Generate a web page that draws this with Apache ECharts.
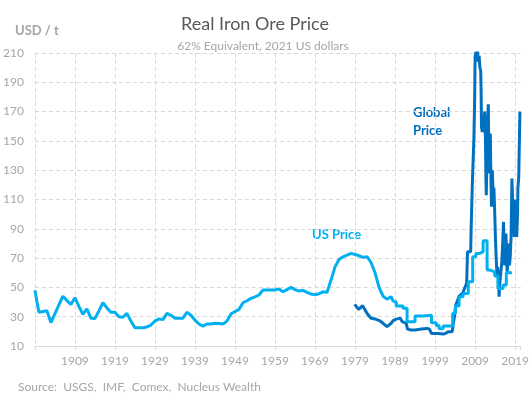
<!DOCTYPE html>
<html lang="en">
<head>
<meta charset="UTF-8" />
<title>Real Iron Ore Price</title>
<style>
  html, body { margin: 0; padding: 0; background: #ffffff; }
  #chart { width: 532px; height: 399px; }
</style>
</head>
<body>
<div id="chart"></div>
<script src="https://cdn.jsdelivr.net/npm/echarts@6/dist/echarts.min.js"></script>
<script>
// US price, annual points (year, USD/t)
const usYears = [1899,1900,1901,1902,1903,1904,1905,1906,1907,1908,1909,1910,1911,1912,1913,1914,1915,1916,1917,1918,
  1919,1920,1921,1922,1923,1924,1925,1926,1927,1928,1929,1930,1931,1932,1933,1934,1935,1936,1937,1938,
  1939,1940,1941,1942,1943,1944,1945,1946,1947,1948,1949,1950,1951,1952,1953,1954,1955,1956,1957,1958,
  1959,1960,1961,1962,1963,1964,1965,1966,1967,1968,1969,1970,1971,1972,1973,1974,1975,1976,1977,1978,
  1979,1980,1981,1982,1983,1984,1985,1986,1987,1988,1988.6];
const usValues = [48,33,33.5,34,26,32,38,44,41,38.4,43,37,31.6,35.4,29,28.7,34,39.5,36,33,
  33,30,29.6,32.3,27,22.5,22.5,22.5,23,24.3,27,28.5,28,32.3,31,28.9,28.9,29,33,31,
  27.7,25,23.6,25,25,25.5,25.3,25,27,31.8,33.5,35,39.5,40.9,42.5,43.5,44.8,48.2,48.2,48.2,
  48.3,48.9,47,48.5,50,48.5,47.5,48,46.6,45.5,45,45.7,47,46.6,55,64,69,70.9,72,73.2,
  72.5,71.6,70.5,71,67,60,50,44,42,43.6,40.2];

// US price from 1989, held flat within each year (step changes)
const usStepYears = [1988.6,1989.3,1991.0,1992.0,1994.0,1996.0,1998.1,1999.3,2000.0,2001.0,2003.4,2004.1,2005.0,
  2006.0,2007.3,2008.4,2009.2,2010.1,2011.0,2012.0,2012.8,2013.9,2014.7,2016.0,2016.8,2018.2];
const usStepValues = [40.2,37.3,35.7,26.5,30.4,31,25.9,24,21.8,23.6,32.3,37.3,43.6,
  45.9,53.8,70.9,73.2,74.3,81.8,61.8,60.6,57.7,49.3,51.6,60,60];

// Global price
const globalYears = [1978.9,1979.9,1980.9,1981.3,1982.1,1983.0,1984.0,1985.2,1986.0,1987.0,1988.0,1988.7,1989.5,
  1990.3,1990.8,1991.8,1992.1,1993.0,1994.0,1994.3,1995.6,1996.0,1997.0,1997.6,1998.1,1999.7,2001.1,2001.6,
  2002.4,2003.3,2003.5,2003.9,2004.1,2005.0,2005.9,2006.9,2007.1,2007.9,2008.0,2008.3,2008.7,2008.9,2009.0,
  2009.2,2009.4,2009.6,2009.8,2010.0,2010.2,2010.4,2010.5,2010.6,2010.8,2010.9,2011.0,2011.2,2011.3,2011.4,
  2011.5,2011.6,2011.7,2011.8,2011.9,2012.0,2012.1,2012.3,2012.4,2012.5,2012.6,2012.8,2012.9,2013.0,2013.1,
  2013.3,2013.4,2013.6,2013.7,2013.9,2014.1,2014.3,2014.5,2014.6,2014.8,2015.0,2015.1,2015.3,2015.5,2015.7,
  2015.9,2016.1,2016.3,2016.4,2016.6,2016.7,2016.9,2017.0,2017.2,2017.3,2017.5,2017.6,2017.8,2018.0,2018.2,
  2018.4,2018.5,2018.7,2018.8,2019.0,2019.1,2019.3,2019.4,2019.6,2019.7,2019.9,2020.2];
const globalValues = [38.4,35,37.5,37,31.8,28.9,28.5,27.2,25.5,23.2,25.5,27.7,28.5,
  28.9,26.6,25.5,21.5,20.9,20.9,21.6,21.6,20.9,22,21.5,18.6,18.6,18.2,18.6,
  19.8,19.8,24.3,31,37.3,44,46,53,74.3,74.3,89,119.7,151.6,180,207,
  211,205,212,204,208,200,198,185,159.5,156,162,168,158,165,170,
  160,150,125,113,130,140,160,175,150,128,140,155,135,118,105,
  130,122,110,118,101.5,82,68,57,64,60,43.6,50,57,62,68.6,
  80,94.7,72,65,78,86.8,70,60,68,75,80,65,72,85,124.3,
  108,100,90,84.5,95,110,98,84.5,100,118,125,170];

const xTickStart = 1899;
const xTickStep = 10;
const yTicks = [10, 210, 20];

const pairs = (xs, ys) => xs.map((x, i) => [x, ys[i]]);

const US_BLUE = '#00B0F0';
const GLOBAL_BLUE = '#0070C0';
const GREY = '#A6A6A6';
const FONT = 'Lato';

const chart = echarts.init(document.getElementById('chart'));
chart.setOption({
  animation: false,
  textStyle: { fontFamily: FONT },
  title: [
    { text: 'Real Iron Ore Price', left: 250, top: 10, textAlign: 'center',
      textStyle: { fontSize: 18, fontWeight: 'normal', color: '#595959', fontFamily: FONT } },
    { text: '62% Equivalent, 2021 US dollars', left: 258, top: 35, textAlign: 'center',
      textStyle: { fontSize: 12, fontWeight: 'normal', color: GREY, fontFamily: FONT } },
    { text: 'USD / t', left: 10, top: 19,
      textStyle: { fontSize: 13, fontWeight: 'bold', color: GREY, fontFamily: FONT } },
    { text: 'Source:  USGS,  IMF,  Comex,  Nucleus Wealth', left: 13, top: 376,
      textStyle: { fontSize: 12, fontWeight: 'normal', color: GREY, fontFamily: FONT } }
  ],
  graphic: [
    { type: 'text', left: 312, top: 228,
      style: { text: 'US Price', fill: US_BLUE, font: 'bold 13px Lato' } },
    { type: 'text', left: 413, top: 104,
      style: { text: 'Global\nPrice', fill: GLOBAL_BLUE, font: 'bold 13px Lato', lineHeight: 18 } }
  ],
  grid: { left: 32, right: 6, top: 53, bottom: 53, containLabel: false },
  xAxis: {
    type: 'value',
    min: xTickStart,
    max: 2020.4,
    interval: xTickStep,
    axisLine: { show: true, lineStyle: { color: '#D9D9D9', width: 1 } },
    axisTick: { show: true, length: 4, lineStyle: { color: '#D9D9D9' } },
    axisLabel: {
      color: GREY, fontSize: 12, margin: 9, fontFamily: FONT,
      formatter: v => (v > xTickStart && (v - xTickStart) % xTickStep === 0) ? String(v) : ''
    },
    splitLine: { show: true, showMaxLine: false, lineStyle: { color: '#D9D9D9', type: [4, 3] } }
  },
  yAxis: {
    type: 'value',
    min: yTicks[0],
    max: yTicks[1],
    interval: yTicks[2],
    axisLine: { show: false },
    axisTick: { show: false },
    axisLabel: { color: GREY, fontSize: 12, margin: 11, fontFamily: FONT },
    splitLine: { show: true, lineStyle: { color: '#D9D9D9', type: [4, 3] } }
  },
  series: [
    { name: 'Global Price', type: 'line', data: pairs(globalYears, globalValues),
      showSymbol: false, lineStyle: { color: GLOBAL_BLUE, width: 3 }, itemStyle: { color: GLOBAL_BLUE } },
    { name: 'US Price', type: 'line', data: pairs(usYears, usValues),
      showSymbol: false, lineStyle: { color: US_BLUE, width: 3 }, itemStyle: { color: US_BLUE } },
    { name: 'US Price (annual steps)', type: 'line', step: 'end', data: pairs(usStepYears, usStepValues),
      showSymbol: false, lineStyle: { color: US_BLUE, width: 3 }, itemStyle: { color: US_BLUE } }
  ]
});
</script>
</body>
</html>
